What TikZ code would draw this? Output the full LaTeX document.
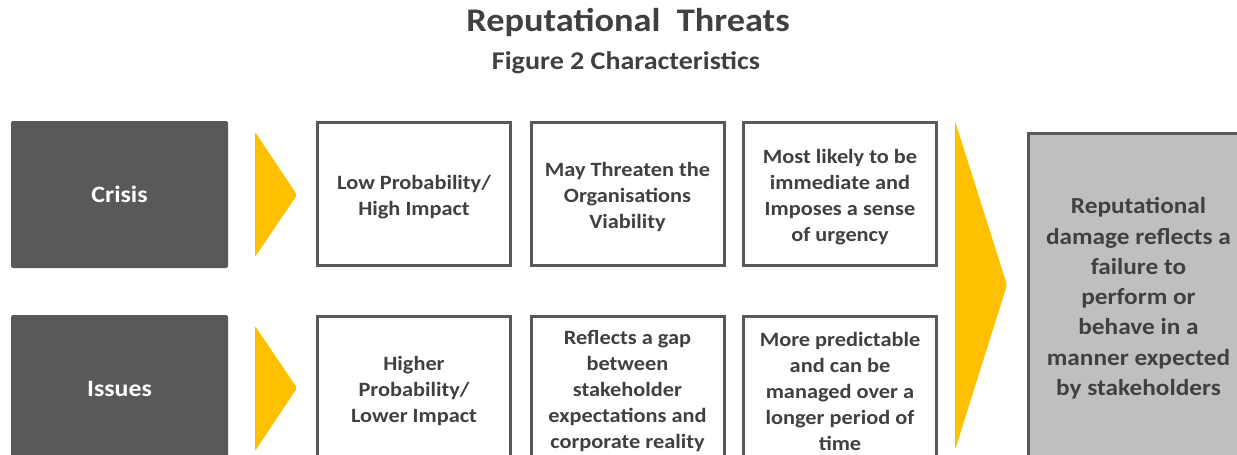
\documentclass[tikz,border=0pt]{standalone}
\usepackage{fontspec}
\setmainfont{Carlito}[FakeStretch=1.1]
\definecolor{txt}{HTML}{404040}
\definecolor{dark}{HTML}{595959}
\definecolor{amber}{HTML}{FFC000}
\definecolor{pale}{HTML}{BFBFBF}
% extra room above the first line of a boxed text
\newcommand\topgap{\rule{0pt}{21pt}}
\begin{document}
\begin{tikzpicture}[x=1pt,y=-1pt,
  label box/.style={fill=dark, draw=none, rounded corners=2pt,
    minimum width=217pt, minimum height=147pt, text=white,
    font=\bfseries\fontsize{23.5}{28}\selectfont},
  trait box/.style={draw=dark, line width=3pt, fill=white,
    minimum width=193pt, minimum height=143pt, align=center, text=txt,
    inner sep=0pt, font=\bfseries\fontsize{20.3}{26}\selectfont},
  result box/.style={draw=dark, line width=3pt, fill=pale,
    minimum width=220pt, minimum height=325pt, align=center, text=txt,
    inner sep=0pt, font=\bfseries\fontsize{23}{30.3}\selectfont},
  chevron/.style={fill=amber, draw=none, rounded corners=2pt}]
\path[use as bounding box] (0,0) rectangle (1237,455);
\clip (0,0) rectangle (1237,455);

% heading
\node[text=txt, font=\bfseries\fontsize{33}{38}\selectfont] (title) at (628,22) {Reputational\ \ Threats};
\node[text=txt, font=\bfseries\fontsize{25.5}{30}\selectfont] (subtitle) at (626,63) {Figure 2 Characteristics};

% row labels
\node[label box] (crisis) at (119.5,194.5) {Crisis};
\node[label box] (issues) at (119.5,388.5) {Issues};

% small chevrons
\path[chevron] (255,132) -- (297,195) -- (255,257) -- cycle;
\path[chevron] (255,326) -- (297,388) -- (255,451) -- cycle;

% crisis traits
\node[trait box] (c1) at (414,194) {\topgap Low Probability/\\High Impact};
\node[trait box] (c2) at (627.5,194) {\topgap May Threaten the\\Organisations\\Viability};
\node[trait box] (c3) at (840,194) {\topgap Most likely to be\\immediate and\\Imposes a sense\\of urgency};

% issues traits
\node[trait box] (i1) at (414,388) {\topgap Higher\\Probability/\\Lower Impact};
\node[trait box] (i2) at (627.5,388) {\topgap Reflects a gap\\between\\stakeholder\\expectations and\\corporate reality};
\node[trait box] (i3) at (840,388) {\topgap More predictable\\and can be\\managed over a\\longer period of\\time};

% large chevron
\path[chevron] (955,121) -- (1007,285) -- (955,450) -- cycle;

% outcome
\node[result box] (result) at (1138.5,296) {\topgap Reputational\\damage reflects a\\failure to\\perform or\\behave in a\\manner expected\\by stakeholders};
\end{tikzpicture}
\end{document}
